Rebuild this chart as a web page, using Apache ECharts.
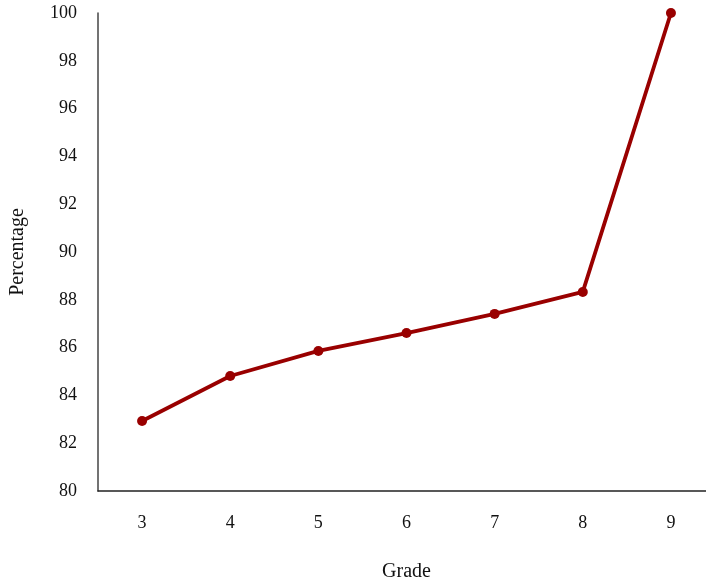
<!DOCTYPE html>
<html>
<head>
<meta charset="utf-8">
<script src="https://cdn.jsdelivr.net/npm/echarts@6/dist/echarts.min.js"></script>
<style>html,body{margin:0;padding:0;background:#fff}#c{width:706px;height:580px}</style>
</head>
<body>
<div id="c"></div>
<script>
const grades = ['3', '4', '5', '6', '7', '8', '9'];
const percentages = [82.93, 84.81, 85.86, 86.61, 87.41, 88.33, 100];
const yTicks = { min: 80, max: 100, interval: 2 };

const font = '"Liberation Serif", "DejaVu Serif", serif';
const chart = echarts.init(document.getElementById('c'), null, { renderer: 'canvas' });
chart.setOption({
  animation: false,
  backgroundColor: '#ffffff',
  grid: { left: 98, top: 13, width: 617, height: 478, containLabel: false, outerBoundsMode: 'none' },
  xAxis: {
    type: 'category',
    data: grades,
    boundaryGap: true,
    name: 'Grade',
    nameLocation: 'middle',
    nameGap: 71,
    nameTextStyle: { fontFamily: font, fontSize: 20, color: '#111' },
    axisLine: { lineStyle: { color: '#222', width: 1.5 } },
    axisTick: { show: false },
    axisLabel: { fontFamily: font, fontSize: 18, color: '#111', margin: 23 },
    splitLine: { show: false }
  },
  yAxis: {
    type: 'value',
    min: yTicks.min,
    max: yTicks.max,
    interval: yTicks.interval,
    name: 'Percentage',
    nameLocation: 'middle',
    nameGap: 70,
    nameTextStyle: { fontFamily: font, fontSize: 20, color: '#111' },
    axisLine: { show: true, lineStyle: { color: '#444', width: 1.5 } },
    axisTick: { show: false },
    axisLabel: { fontFamily: font, fontSize: 18, color: '#111', margin: 21 },
    splitLine: { show: false }
  },
  series: [{
    type: 'line',
    data: percentages,
    symbol: 'circle',
    symbolSize: 10,
    lineStyle: { color: '#990000', width: 3.8 },
    itemStyle: { color: '#990000' }
  }]
});
</script>
</body>
</html>
